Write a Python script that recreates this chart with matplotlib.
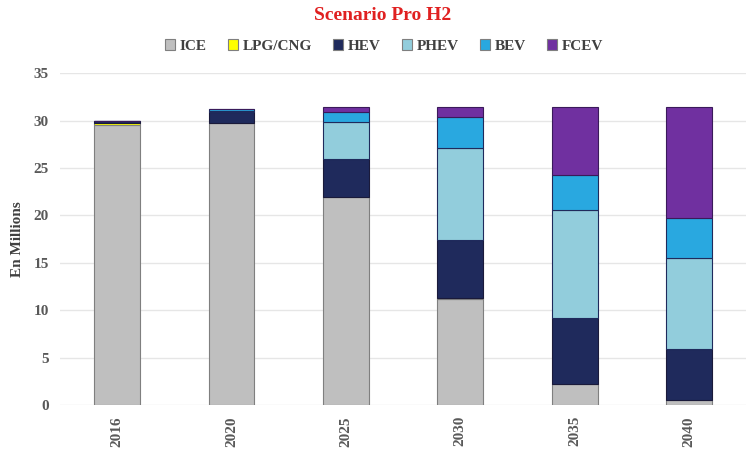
import matplotlib
matplotlib.use("Agg")
import matplotlib.pyplot as plt
from matplotlib.patches import Patch
import numpy as np

years = ["2016", "2020", "2025", "2030", "2035", "2040"]
ice = [29.5, 29.7, 21.9, 11.2, 2.2, 0.5]
lpg_cng = [0.2, 0.05, 0.05, 0.05, 0.05, 0.05]
hev = [0.3, 1.1, 4.0, 6.1, 6.9, 5.3]
phev = [0.0, 0.2, 3.9, 9.8, 11.4, 9.6]
bev = [0.0, 0.15, 1.0, 3.2, 3.7, 4.3]
fcev = [0.0, 0.05, 0.6, 1.1, 7.2, 11.7]

series_names = ["ICE", "LPG/CNG", "HEV", "PHEV", "BEV", "FCEV"]
series_values = [ice, lpg_cng, hev, phev, bev, fcev]
colors = ["#bfbfbf", "#ffff00", "#1f2a5c", "#92cddc", "#29a8e0", "#7030a0"]
edge_colors = ["#7f7f7f", "#7f7f7f", "#1a1a3a", "#1f2a5c", "#1f2a5c", "#3a1a5a"]

plt.rcParams["font.family"] = ["Liberation Serif", "DejaVu Serif"]
plt.rcParams["font.weight"] = "bold"

fig = plt.figure(figsize=(7.5, 4.54), dpi=100)
ax = fig.add_axes([0.08, 0.108, 0.915, 0.731])

x = np.arange(len(years))
bottom = np.zeros(len(years))
for name, vals, c, ec in zip(series_names, series_values, colors, edge_colors):
    vals = np.array(vals)
    ax.bar(x, vals, width=0.4, bottom=bottom, color=c, edgecolor=ec,
           linewidth=0.8, zorder=3)
    bottom += vals

ax.set_xlim(-0.5, len(years) - 0.5)
ax.set_ylim(0, 35)
ax.set_yticks(range(0, 36, 5))
ax.yaxis.grid(True, color="#e6e6e6", linewidth=1.0, zorder=0)
ax.set_axisbelow(True)
for s in ["top", "right", "left", "bottom"]:
    ax.spines[s].set_visible(False)
ax.tick_params(axis="both", length=0, colors="#595959", labelsize=11, pad=8)
ax.set_xticks(x)
ax.set_xticklabels(years, rotation=90, fontweight="bold")
for lbl in ax.get_yticklabels():
    lbl.set_fontweight("bold")
ax.set_ylabel("En Millions", fontsize=11, fontweight="bold", color="#404040")
ax.yaxis.set_label_coords(-0.052, 0.5)

fig.text(0.51, 0.965, "Scenario Pro H2", ha="center", va="center",
         fontsize=14, fontweight="bold", color="#e02020")

handles = [Patch(facecolor=c, edgecolor="#7f7f7f", linewidth=0.8) for c in colors]
fig.legend(handles, series_names, loc="center", bbox_to_anchor=(0.512, 0.899),
           ncol=6, frameon=False, handlelength=0.7, handleheight=0.7,
           handletextpad=0.3, columnspacing=1.35,
           prop={"family": "Liberation Serif", "weight": "bold", "size": 11},
           labelcolor="#404040")

fig.savefig("out.png", dpi=100)
